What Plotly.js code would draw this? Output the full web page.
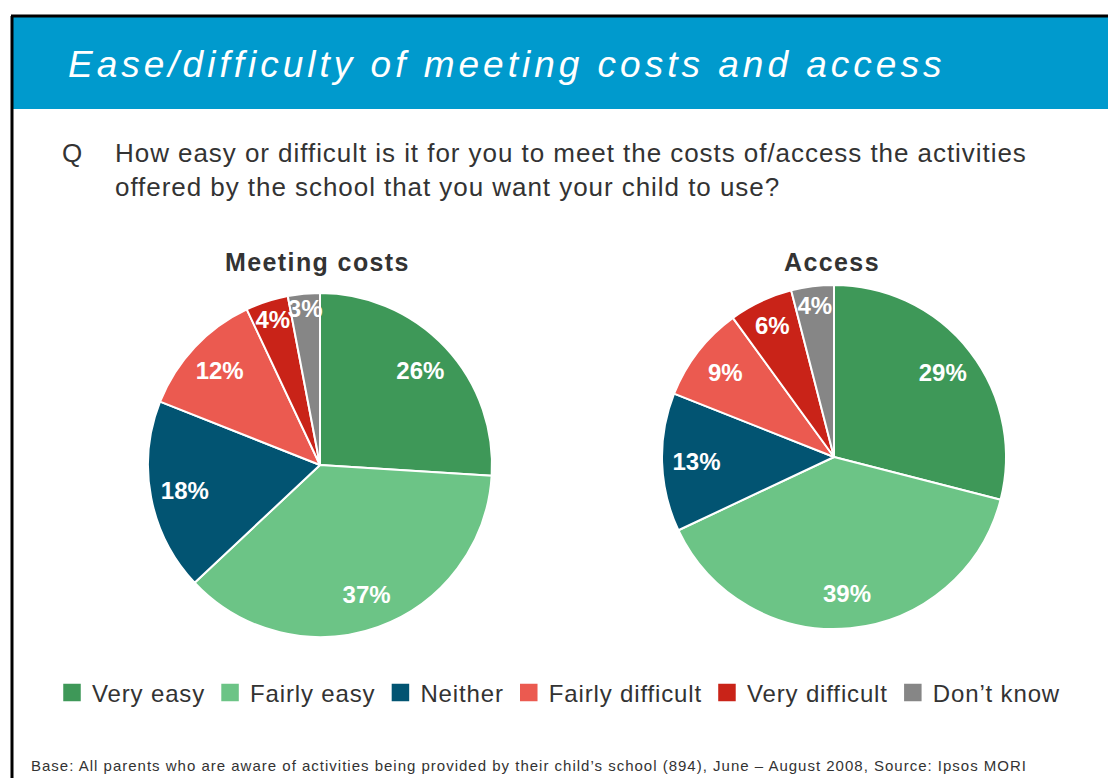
<!DOCTYPE html>
<html>
<head>
<meta charset="utf-8">
<script src="https://cdn.plot.ly/plotly-3.0.1.min.js"></script>
<style>
  html, body { margin: 0; padding: 0; background: #fff; }
  #chart { width: 1108px; height: 778px; }
  g.annotation[data-index="0"] text { letter-spacing: 4px; }
  g.annotation[data-index="1"] text { letter-spacing: 0.95px; }
  g.annotation[data-index="2"] text { letter-spacing: 0.95px; }
  g.annotation[data-index="3"] text { letter-spacing: 1.4px; }
  g.annotation[data-index="4"] text { letter-spacing: 1.4px; }
  g.annotation[data-index="5"] text { letter-spacing: 1px; }
  .legendtext { letter-spacing: 0.85px; }
  path.legendpie { transform: translate(20px, 0px) scale(1.75); }
</style>
</head>
<body>
<div id="chart"></div>
<script>
const categories = ["Very easy", "Fairly easy", "Neither", "Fairly difficult", "Very difficult", "Don\u2019t know"];
const meetingCosts = [26, 37, 18, 12, 4, 3];
const access = [29, 39, 13, 9, 6, 4];
const sliceColors = ["#3E9858", "#6CC486", "#025472", "#EB5A50", "#C92318", "#868686"];
const pieTitles = ["Meeting costs", "Access"];
const mainTitle = "Ease/difficulty of meeting costs and access";
const question = "How easy or difficult is it for you to meet the costs of/access the activities<br>offered by the school that you want your child to use?";
const footer = "Base: All parents who are aware of activities being provided by their child\u2019s school (894), June \u2013 August 2008, Source: Ipsos MORI";

const W = 1108, H = 778;
const px = x => x / W;
const py = y => 1 - y / H;
const FONT = "Arial, Liberation Sans, sans-serif";

const domainCosts = { x: [px(148), px(492)], y: [py(637), py(293)] };
const domainAccess = { x: [px(662), px(1006)], y: [py(629), py(285)] };

function pieTrace(values, domain, showlegend) {
  return {
    type: "pie",
    labels: categories,
    values: values,
    sort: false,
    direction: "clockwise",
    rotation: 0,
    domain: domain,
    marker: { colors: sliceColors, line: { color: "#ffffff", width: 2 } },
    textinfo: "none",
    hoverinfo: "label+value",
    showlegend: showlegend
  };
}

// transparent ring overlay carrying the percentage labels, so they sit toward the rim
function labelTrace(values, domain) {
  return {
    type: "pie",
    labels: categories,
    values: values,
    sort: false,
    direction: "clockwise",
    rotation: 0,
    domain: domain,
    hole: 0.6,
    marker: { colors: categories.map(() => "rgba(0,0,0,0)"), line: { width: 0 } },
    texttemplate: "%{value}%",
    textposition: "inside",
    insidetextorientation: "horizontal",
    textfont: { family: FONT, size: 24, color: "#ffffff", weight: "bold" },
    hoverinfo: "skip",
    showlegend: false
  };
}

const data = [
  pieTrace(meetingCosts, domainCosts, true),
  pieTrace(access, domainAccess, false),
  labelTrace(meetingCosts, domainCosts),
  labelTrace(access, domainAccess)
];

const layout = {
  width: W, height: H,
  margin: { l: 0, r: 0, t: 0, b: 0 },
  paper_bgcolor: "#ffffff",
  font: { family: FONT, color: "#333333" },
  uniformtext: { mode: "show", minsize: 24 },
  shapes: [
    { type: "rect", xref: "paper", yref: "paper", x0: px(13), x1: px(1108), y0: py(109), y1: py(17),
      fillcolor: "#009ACD", line: { width: 0 }, layer: "below" },
    { type: "line", xref: "paper", yref: "paper", x0: px(11), x1: px(1108), y0: py(16), y1: py(16),
      line: { color: "#000000", width: 3 } },
    { type: "line", xref: "paper", yref: "paper", x0: px(12), x1: px(12), y0: py(16), y1: 0,
      line: { color: "#000000", width: 3 } }
  ],
  legend: {
    orientation: "h",
    x: px(52), xanchor: "left",
    y: py(693), yanchor: "middle",
    font: { family: FONT, size: 24, color: "#333333" },
    traceorder: "normal",
    bgcolor: "rgba(0,0,0,0)"
  },
  annotations: [
    { text: mainTitle, xref: "paper", yref: "paper", x: px(66), y: py(64), xanchor: "left", yanchor: "middle",
      align: "left", showarrow: false, font: { family: FONT, size: 37, color: "#ffffff", style: "italic" } },
    { text: "Q", xref: "paper", yref: "paper", x: px(60), y: py(153), xanchor: "left", yanchor: "middle",
      align: "left", showarrow: false, font: { size: 26, color: "#333333" } },
    { text: question, xref: "paper", yref: "paper", x: px(113), y: py(170), xanchor: "left", yanchor: "middle",
      align: "left", showarrow: false, font: { size: 26, color: "#333333" } },
    { text: "<b>" + pieTitles[0] + "</b>", xref: "paper", yref: "paper", x: px(223), y: py(262), xanchor: "left", yanchor: "middle",
      align: "left", showarrow: false, font: { size: 25, color: "#333333" } },
    { text: "<b>" + pieTitles[1] + "</b>", xref: "paper", yref: "paper", x: px(782), y: py(262), xanchor: "left", yanchor: "middle",
      align: "left", showarrow: false, font: { size: 25, color: "#333333" } },
    { text: footer, xref: "paper", yref: "paper", x: px(29), y: py(765), xanchor: "left", yanchor: "middle",
      align: "left", showarrow: false, font: { size: 15, color: "#333333" } }
  ]
};

Plotly.newPlot("chart", data, layout, { displayModeBar: false, staticPlot: true });
</script>
</body>
</html>
